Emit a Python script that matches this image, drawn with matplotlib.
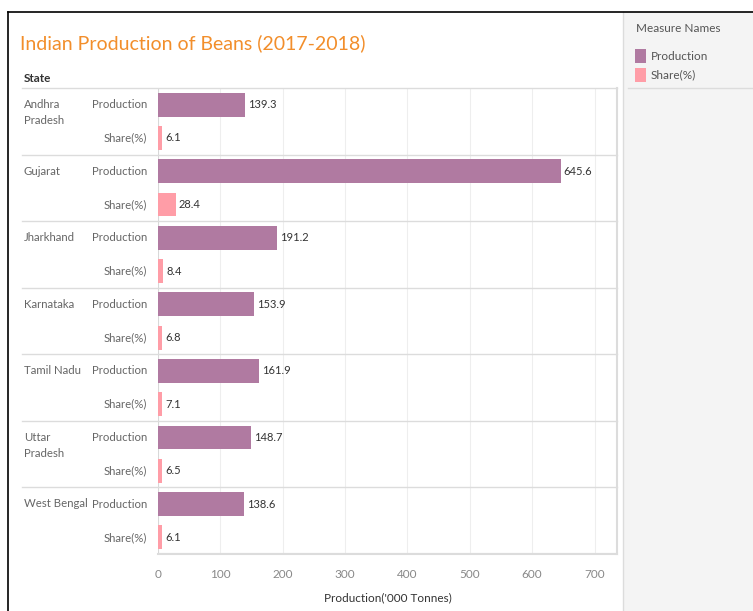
import matplotlib.pyplot as plt
from matplotlib.patches import Rectangle
from matplotlib.lines import Line2D
import matplotlib.transforms as mtransforms

plt.rcParams['font.family'] = ['Lato', 'DejaVu Sans']

states = ['Andhra\nPradesh', 'Gujarat', 'Jharkhand', 'Karnataka',
          'Tamil Nadu', 'Uttar\nPradesh', 'West Bengal']
production = [139.3, 645.6, 191.2, 153.9, 161.9, 148.7, 138.6]
share = [6.1, 28.4, 8.4, 6.8, 7.1, 6.5, 6.1]
measures = ['Production', 'Share(%)']
xticks = [0, 100, 200, 300, 400, 500, 600, 700]

PROD_COLOR = '#b07aa1'
SHARE_COLOR = '#ff9da7'
W, H = 753, 611


def fx(px):
    return px / W


def fy(py):
    return 1 - py / H


fig = plt.figure(figsize=(W / 100, H / 100), dpi=100)
fig.patch.set_facecolor('white')

# right grey panel + legend
fig.patches.append(Rectangle((fx(623), 0), 1 - fx(623), fy(12), transform=fig.transFigure,
                             facecolor='#f4f4f4', edgecolor='none', zorder=0))
fig.lines.append(Line2D([fx(623), fx(623)], [0, fy(12)], transform=fig.transFigure,
                        color='#dcdcdc', lw=1))
fig.lines.append(Line2D([fx(628), 1], [fy(88), fy(88)], transform=fig.transFigure,
                        color='#dcdcdc', lw=1))
fig.text(fx(636), fy(29), 'Measure Names', fontsize=8.5, color='#555555', va='center')
for i, (name, col) in enumerate(zip(measures, [PROD_COLOR, SHARE_COLOR])):
    yc = 56 + i * 19
    fig.patches.append(Rectangle((fx(635), fy(yc + 7)), fx(11), 14 / H,
                                 transform=fig.transFigure, facecolor=col, edgecolor='none'))
    fig.text(fx(651), fy(yc), name, fontsize=8.5, color='#555555', va='center')

# outer frame
fig.lines.append(Line2D([fx(8), 1], [fy(12), fy(12)], transform=fig.transFigure, color='black', lw=1.2))
fig.lines.append(Line2D([fx(8), fx(8)], [0, fy(12)], transform=fig.transFigure, color='black', lw=1.2))

fig.text(fx(20), fy(43), 'Indian Production of Beans (2017-2018)', fontsize=14,
         color='#f28e2b', va='center')
fig.text(fx(24), fy(78), 'State', fontsize=8.5, color='#333333', va='center', fontweight='bold')

ax = fig.add_axes([fx(158), fy(554), fx(617) - fx(158), (554 - 88) / H])
ax.set_xlim(0, 736)
ax.set_ylim(2 * len(states) - 0.5, -0.5)

for i in range(len(states)):
    ax.barh(2 * i, production[i], height=0.72, color=PROD_COLOR)
    ax.barh(2 * i + 1, share[i], height=0.72, color=SHARE_COLOR)
    ax.text(production[i] + 5, 2 * i, f'{production[i]:.1f}', va='center', fontsize=8, color='#333333')
    ax.text(share[i] + 5, 2 * i + 1, f'{share[i]:.1f}', va='center', fontsize=8, color='#333333')

left_frac = (22 - 158) / (617 - 158)
trans = mtransforms.blended_transform_factory(ax.transAxes, ax.transData)
for i, st in enumerate(states):
    ax.axhline(2 * i - 0.5, xmin=left_frac, xmax=1, color='#dcdcdc', lw=1, clip_on=False)
    ax.text((24 - 158) / 459, 2 * i - 0.17, st, transform=trans, fontsize=8.2,
            color='#666666', va='top', ha='left', linespacing=1.55)
    for j, m in enumerate(measures):
        ax.text((147 - 158) / 459, 2 * i + j, m, transform=trans, fontsize=8.2,
                color='#666666', va='center', ha='right')
ax.axhline(2 * len(states) - 0.5, color='#dcdcdc', lw=1.5)

for t in xticks[1:]:
    ax.axvline(t, color='#eeeeee', lw=0.8, zorder=0)
ax.axvline(0, color='#d8d8d8', lw=0.8, zorder=0)

for s in ['top', 'left']:
    ax.spines[s].set_visible(False)
ax.spines['right'].set_color('#dcdcdc')
ax.spines['bottom'].set_color('#dcdcdc')
ax.spines['right'].set_linewidth(1.5)
ax.spines['bottom'].set_linewidth(1.5)

ax.set_yticks([])
ax.set_xticks(xticks)
ax.tick_params(axis='x', length=0, labelsize=8.5, labelcolor='#888888', pad=11)
ax.set_xlabel("Production('000 Tonnes)", fontsize=8.5, color='#333333', labelpad=9)

fig.savefig('out.png', dpi=100)
